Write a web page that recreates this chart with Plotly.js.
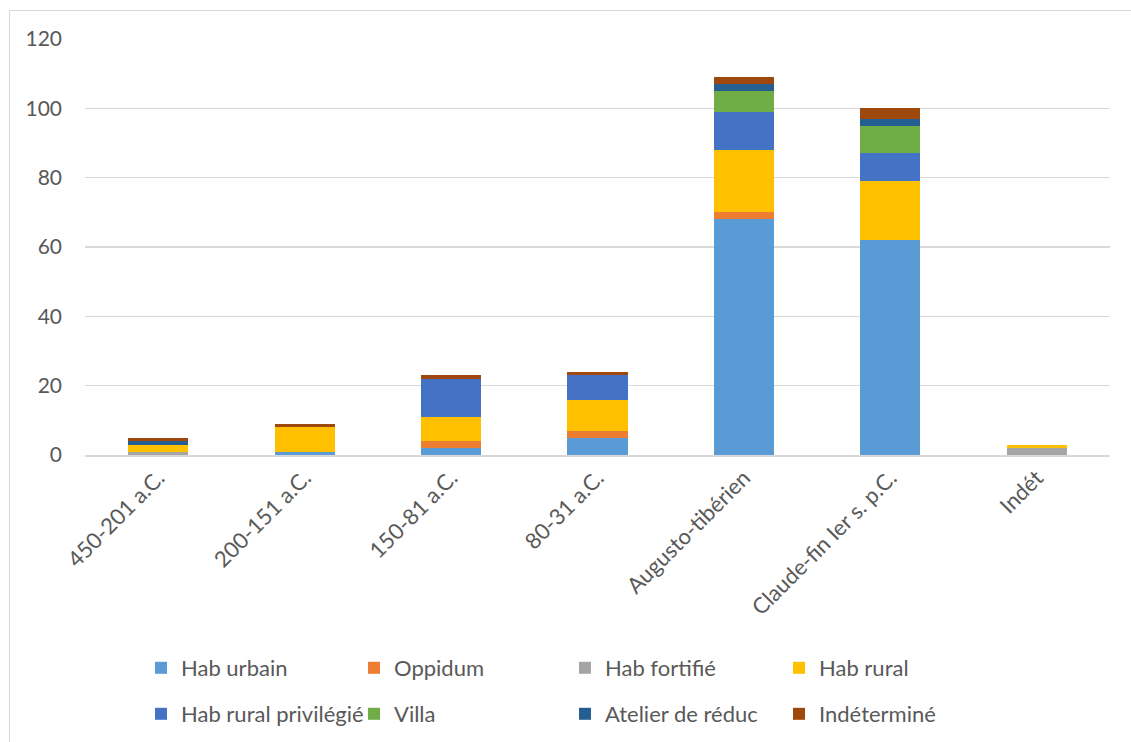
<!DOCTYPE html>
<html><head><meta charset="utf-8">
<script src="https://cdn.plot.ly/plotly-3.0.1.min.js"></script>
<style>
html,body{margin:0;padding:0;background:#fff;}
#wrap{position:relative;width:1131px;height:742px;}
#frame{position:absolute;left:9px;top:10px;width:1140px;height:760px;border-top:1px solid #D9D9D9;border-left:1px solid #D9D9D9;pointer-events:none;}
#chart{position:absolute;left:0;top:0;width:1131px;height:742px;}
</style></head>
<body><div id="wrap"><div id="chart"></div><div id="frame"></div></div>
<script>
const categories = ["450-201 a.C.", "200-151 a.C.", "150-81 a.C.", "80-31 a.C.", "Augusto-tibérien", "Claude-fin Ier s. p.C.", "Indét"];
const seriesNames = ["Hab urbain", "Oppidum", "Hab fortifié", "Hab rural", "Hab rural privilégié", "Villa", "Atelier de réduc", "Indéterminé"];
const habUrbain      = [0, 1, 2, 5, 68, 62, 0];
const oppidum        = [0, 0, 2, 2, 2, 0, 0];
const habFortifie    = [1, 0, 0, 0, 0, 0, 2];
const habRural       = [2, 7, 7, 9, 18, 17, 1];
const habRuralPriv   = [0, 0, 11, 7, 11, 8, 0];
const villa          = [0, 0, 0, 0, 6, 8, 0];
const atelierReduc   = [1, 0, 0, 0, 2, 2, 0];
const indetermine    = [1, 1, 1, 1, 2, 3, 0];
const yTicks = [0, 20, 40, 60, 80, 100, 120];

const seriesValues = [habUrbain, oppidum, habFortifie, habRural, habRuralPriv, villa, atelierReduc, indetermine];
const colors = ["#5B9BD5", "#ED7D31", "#A5A5A5", "#FFC000", "#4472C4", "#70AD47", "#255E91", "#9E480E"];

const FONT = "Lato, 'Noto Sans', sans-serif";
const plotL = 85, plotR = 1110, plotT = 39, plotB = 455;
const FW = 1131, FH = 742;
// legend text-start pixel positions for each series
const legPx = [[179, 668], [392, 668], [603, 668], [817, 668], [179, 714], [392, 714], [603, 714], [817, 714]];

const traces = seriesNames.map((n, i) => ({
  type: "bar", name: n, x: categories, y: seriesValues[i],
  marker: {color: colors[i], line: {width: 0}},
  legend: i === 0 ? "legend" : "legend" + (i + 1),
  hoverinfo: "x+y+name"
}));

const layout = {
  width: FW, height: FH,
  paper_bgcolor: "#fff", plot_bgcolor: "#fff",
  margin: {l: plotL, r: FW - plotR, t: plotT, b: FH - plotB, pad: 0, autoexpand: false},
  barmode: "stack", bargap: 0.59,
  font: {family: FONT, size: 22, color: "#595959"},
  xaxis: {
    type: "category", tickangle: -45, showgrid: false, zeroline: false,
    showline: true, linecolor: "#D9D9D9", linewidth: 1.5, ticks: "",
    tickfont: {family: FONT, size: 22, color: "#595959"}, fixedrange: true, automargin: false
  },
  yaxis: {
    range: [0, 120], tickvals: yTicks, ticktext: yTicks.map(String),
    showgrid: true, gridcolor: "#D9D9D9", gridwidth: 1.3, zeroline: false,
    showline: false, ticks: "", ticklabelstandoff: 22,
    tickfont: {family: FONT, size: 21, color: "#595959"}, fixedrange: true, automargin: false
  },
  showlegend: true
};
legPx.forEach((p, i) => {
  const key = i === 0 ? "legend" : "legend" + (i + 1);
  layout[key] = {
    xref: "container", yref: "container",
    x: (p[0] - 38) / FW, y: 1 - p[1] / FH,
    xanchor: "left", yanchor: "middle", orientation: "h",
    bgcolor: "rgba(0,0,0,0)", borderwidth: 0,
    font: {family: FONT, size: 22, color: "#595959"},
    itemwidth: 30, traceorder: "normal"
  };
});
Plotly.newPlot("chart", traces, layout, {displayModeBar: false, staticPlot: true});
</script></body></html>
